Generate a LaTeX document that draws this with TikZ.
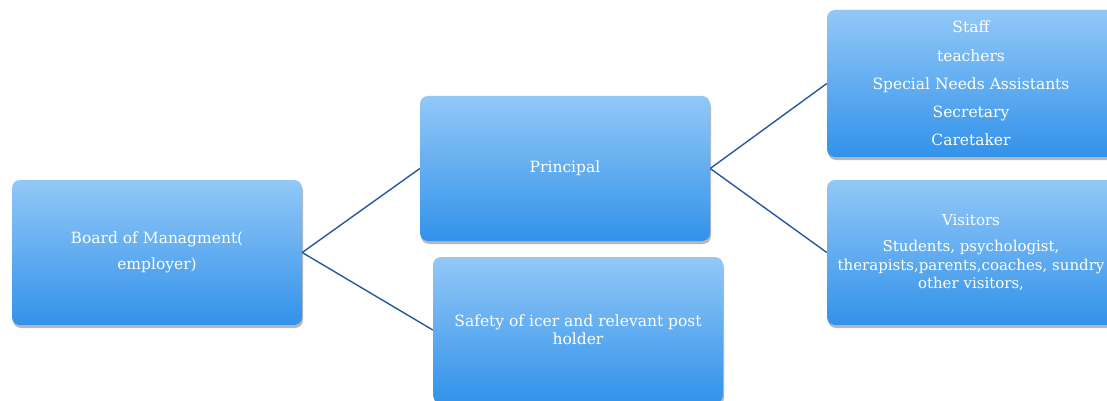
\documentclass[tikz,border=0pt]{standalone}
\usepackage{fontspec}
\setmainfont{DejaVu Serif}
\usetikzlibrary{shadows}
\definecolor{boxtop}{RGB}{146,200,247}
\definecolor{boxbot}{RGB}{50,146,234}
\definecolor{linkc}{RGB}{35,90,160}
\definecolor{shadowc}{RGB}{140,135,140}
\begin{document}
\begin{tikzpicture}[x=1pt,y=-1pt,
  box/.style={rounded corners=8pt, top color=boxtop, bottom color=boxbot, draw=none,
    text=white, align=center, inner sep=0pt, minimum width=290pt, minimum height=145pt,
    drop shadow={shadow xshift=1pt, shadow yshift=-3pt, fill=shadowc, opacity=0.6}},
  link/.style={draw=linkc, line width=1.4pt}]
\useasboundingbox (0,0) rectangle (1107,401);
\clip (0,0) rectangle (1107,401);
\fill[white] (0,0) rectangle (1107,401);
\node[box, font=\fontsize{15.5}{26}\selectfont] (board) at (157,252.5) {Board of Managment(\\employer)};
\node[box, font=\fontsize{15.5}{18}\selectfont] (principal) at (565,168.5) {Principal};
\node[box, font=\fontsize{15.5}{18}\selectfont, minimum height=146pt] (safety) at (578,330) {Safety of icer and relevant post\\holder};
\node[box, font=\fontsize{15.5}{28.2}\selectfont, minimum width=288pt, minimum height=147pt] (staff) at (971,83.5) {Staff\\teachers\\Special Needs Assistants\\Secretary\\Caretaker};
\node[box, font=\fontsize{15}{18.5}\selectfont, minimum width=288pt] (visitors) at (971,252.5) {Visitors\\[8pt]Students, psychologist,\\therapists,parents,coaches, sundry\\other visitors,};
\draw[link] (board.east) -- (principal.west);
\draw[link] (board.east) -- (safety.west);
\draw[link] (principal.east) -- (staff.west);
\draw[link] (principal.east) -- (visitors.west);
\end{tikzpicture}
\end{document}
